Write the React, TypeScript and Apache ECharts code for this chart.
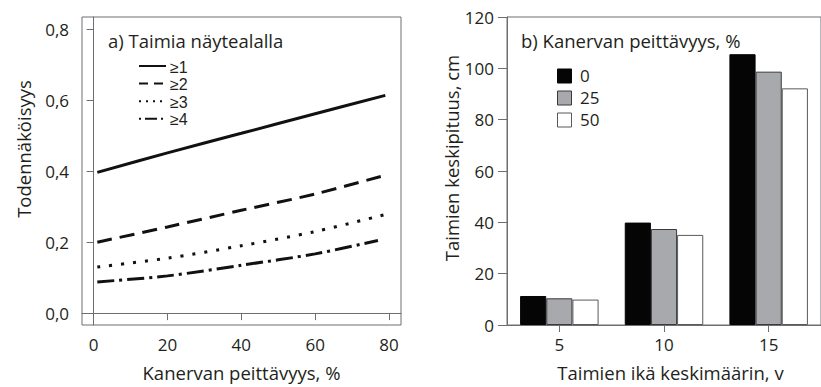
import React, { useEffect, useRef } from "react";
import * as echarts from "echarts";

// Panel a: probability of at least N seedlings on the sample plot vs heather cover
const coverage = [1, 20, 40, 60, 79];
const coverageAtLeast4 = [1, 20, 40, 60, 77];
const probAtLeast1 = [0.397, 0.452, 0.507, 0.562, 0.614];
const probAtLeast2 = [0.2, 0.243, 0.29, 0.336, 0.389];
const probAtLeast3 = [0.13, 0.155, 0.19, 0.23, 0.278];
const probAtLeast4 = [0.088, 0.105, 0.135, 0.167, 0.205];
const seedlingClasses = ["≥1", "≥2", "≥3", "≥4"];
const probTicks = [0, 0.2, 0.4, 0.6, 0.8];
const coverTicks = [0, 20, 40, 60, 80];

// Panel b: mean seedling height by age and heather cover
const ageCategories = ["5", "10", "15"];
const coverClasses = ["0", "25", "50"];
const height0 = [11.3, 39.9, 105.5];
const height25 = [10.4, 37.4, 98.7];
const height50 = [9.9, 35.1, 92.2];

const TEXT = "#231f20";
const AXIS = "#6d6e71";
const FONT = "'Open Sans', sans-serif";

const lineDashes: (number[] | null)[] = [null, [15, 8], [3, 9], [17, 5, 3, 5]];
const legendDashes: (number[] | null)[] = [null, [9, 6], [2, 5], [2, 4, 12, 4]];
const barFills = ["#050505", "#a7a9ac", "#ffffff"];
const barStrokes = ["#050505", "#3a3a3a", "#58595b"];

export default function App() {
  const ref = useRef<HTMLDivElement>(null);

  useEffect(() => {
    if (!ref.current) return;
    const chart = echarts.init(ref.current, undefined, { renderer: "svg" });

    const probSets = [probAtLeast1, probAtLeast2, probAtLeast3, probAtLeast4];
    const xSets = [coverage, coverage, coverage, coverageAtLeast4];
    const heightSets = [height0, height25, height50];

    const lineSeries = probSets.map((vals, i) => ({
      type: "line",
      name: seedlingClasses[i],
      xAxisIndex: 0,
      yAxisIndex: 0,
      smooth: 0.3,
      showSymbol: false,
      data: vals.map((v, j) => [xSets[i][j], v]),
      lineStyle: {
        color: "#111",
        width: 3,
        type: lineDashes[i] ?? "solid",
        cap: "butt",
      },
    }));

    const barSeries = heightSets.map((vals, i) => ({
      type: "bar",
      name: coverClasses[i],
      xAxisIndex: 1,
      yAxisIndex: 1,
      barGap: "0%",
      barCategoryGap: "25%",
      data: vals,
      itemStyle: {
        color: barFills[i],
        borderColor: barStrokes[i],
        borderWidth: 1,
      },
    }));

    const legendA = seedlingClasses.flatMap((label, i) => {
      const y = 66 + i * 17.6;
      return [
        {
          type: "line",
          shape: { x1: 139, y1: y, x2: 166, y2: y },
          style: {
            stroke: "#111",
            lineWidth: 2,
            lineDash: legendDashes[i] ?? undefined,
          },
        },
        {
          type: "text",
          x: 170,
          y: y + 1,
          style: {
            text: label,
            fontFamily: "'Liberation Sans', Arial, sans-serif",
            fontSize: 16,
            fill: TEXT,
            align: "left",
            verticalAlign: "middle",
          },
        },
      ];
    });

    const legendB = coverClasses.flatMap((label, i) => {
      const y = 76 + i * 22;
      return [
        {
          type: "rect",
          shape: { x: 557.5, y: y - 7, width: 14, height: 14 },
          style: { fill: barFills[i], stroke: barStrokes[i], lineWidth: 1 },
        },
        {
          type: "text",
          x: 580,
          y: y - 1,
          style: {
            text: label,
            fontFamily: FONT,
            fontSize: 17,
            fill: TEXT,
            align: "left",
            verticalAlign: "middle",
          },
        },
      ];
    });

    const titleStyle = (text: string) => ({
      text,
      fontFamily: FONT,
      fontSize: 18.5,
      fill: TEXT,
      align: "left",
      verticalAlign: "middle",
    });

    const vName = (text: string, x: number, y: number) => ({
      type: "text",
      x,
      y,
      rotation: Math.PI / 2,
      style: {
        text,
        fontFamily: FONT,
        fontSize: 18.5,
        fill: TEXT,
        align: "center",
        verticalAlign: "middle",
      },
    });

    const axisLabelStyle = { color: TEXT, fontFamily: FONT, fontSize: 17 };

    chart.setOption({
      animation: false,
      grid: [
        {
          left: 82,
          top: 17,
          width: 319,
          height: 312,
          show: true,
          borderColor: AXIS,
          borderWidth: 1,
          backgroundColor: "transparent",
        },
        {
          left: 507,
          top: 17,
          width: 327,
          height: 311,
          show: true,
          borderColor: AXIS,
          borderWidth: 1,
          backgroundColor: "transparent",
        },
      ],
      xAxis: [
        {
          gridIndex: 0,
          type: "value",
          min: -3.15,
          max: 83.25,
          name: "Kanervan peittävyys, %",
          nameLocation: "middle",
          nameGap: 38,
          nameTextStyle: { color: TEXT, fontFamily: FONT, fontSize: 18.5 },
          axisLine: { show: true, lineStyle: { color: AXIS } },
          axisTick: {
            show: true,
            length: 7,
            customValues: coverTicks,
            lineStyle: { color: AXIS },
          },
          axisLabel: { ...axisLabelStyle, margin: 11, customValues: coverTicks },
          splitLine: { show: false },
        },
        {
          gridIndex: 1,
          type: "category",
          data: ageCategories,
          name: "Taimien ikä keskimäärin, v",
          nameLocation: "middle",
          nameGap: 38,
          nameTextStyle: {
            color: TEXT,
            fontFamily: FONT,
            fontSize: 18.5,
            padding: [0, 0, 0, 13],
          },
          axisLine: { show: true, lineStyle: { color: AXIS } },
          axisTick: {
            show: true,
            length: 7,
            alignWithLabel: true,
            lineStyle: { color: AXIS },
          },
          axisLabel: { ...axisLabelStyle, margin: 11 },
          splitLine: { show: false },
        },
      ],
      yAxis: [
        {
          gridIndex: 0,
          type: "value",
          min: -0.0335,
          max: 0.835,
          axisLine: { show: true, lineStyle: { color: AXIS } },
          axisTick: {
            show: true,
            length: 7,
            customValues: probTicks,
            lineStyle: { color: AXIS },
          },
          axisLabel: {
            ...axisLabelStyle,
            margin: 13,
            customValues: probTicks,
            formatter: (v: number) => v.toFixed(1).replace(".", ","),
          },
          splitLine: { show: false },
        },
        {
          gridIndex: 1,
          type: "value",
          min: 0,
          max: 120,
          interval: 20,
          axisLine: { show: true, lineStyle: { color: AXIS } },
          axisTick: { show: true, length: 9, lineStyle: { color: AXIS } },
          axisLabel: { ...axisLabelStyle, margin: 13 },
          splitLine: { show: false },
        },
      ],
      graphic: [
        { type: "text", x: 108, y: 40, style: titleStyle("a) Taimia näytealalla") },
        { type: "text", x: 521, y: 40, style: titleStyle("b) Kanervan peittävyys, %") },
        vName("Todennäköisyys", 23, 149),
        vName("Taimien keskipituus, cm", 451, 158),
        ...legendA,
        ...legendB,
      ],
      series: [...lineSeries, ...barSeries],
    });

    return () => chart.dispose();
  }, []);

  return (
    <div
      ref={ref}
      style={{ position: "fixed", left: 0, top: 0, width: 821, height: 387, background: "#fff" }}
    />
  );
}
